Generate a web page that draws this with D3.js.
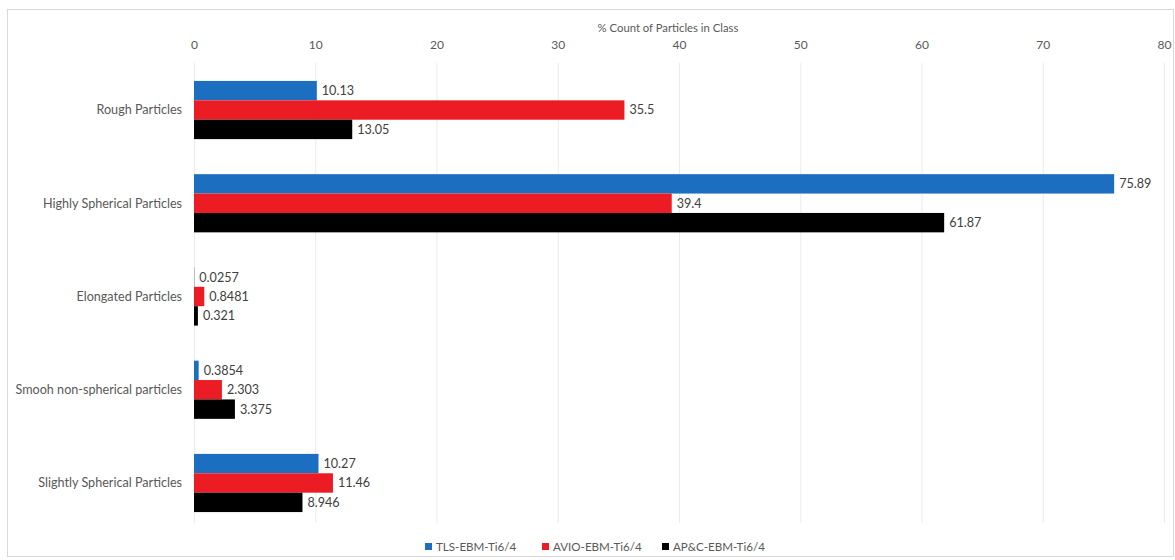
<!DOCTYPE html>
<html>
<head>
<meta charset="utf-8">
<script src="https://cdn.jsdelivr.net/npm/d3@7"></script>
<style>
  html, body { margin: 0; padding: 0; background: #fff; }
  svg { display: block; font-family: Lato, "Open Sans", sans-serif; }
</style>
</head>
<body>
<svg id="chart" width="1175" height="560"></svg>
<script>
// Particle shape classes (top to bottom)
const categories = [
  "Rough Particles",
  "Highly Spherical Particles",
  "Elongated Particles",
  "Smooh non-spherical particles",
  "Slightly Spherical Particles"
];
// Series names
const seriesNames = ["TLS-EBM-Ti6/4", "AVIO-EBM-Ti6/4", "AP&C-EBM-Ti6/4"];
// % count of particles in each class, per powder
const tlsValues  = [10.13, 75.89, 0.0257, 0.3854, 10.27];
const avioValues = [35.5, 39.4, 0.8481, 2.303, 11.46];
const apcValues  = [13.05, 61.87, 0.321, 3.375, 8.946];
const seriesValues = [tlsValues, avioValues, apcValues];
const seriesLabels = [
  ["10.13", "75.89", "0.0257", "0.3854", "10.27"],
  ["35.5", "39.4", "0.8481", "2.303", "11.46"],
  ["13.05", "61.87", "0.321", "3.375", "8.946"]
];
const xTicks = [0, 10, 20, 30, 40, 50, 60, 70, 80];
const colors = ["#1c6ec1", "#ec1c24", "#000000"];

const svg = d3.select("#chart");

// Outer chart frame
svg.append("rect")
  .attr("x", 7.5).attr("y", 9.5)
  .attr("width", 1166).attr("height", 547)
  .attr("fill", "#fff").attr("stroke", "#d9d9d9");

const x = d3.scaleLinear().domain([0, 80]).range([194, 1164]);
const y = d3.scaleBand().domain(categories)
  .range([63.4, 529.6]).paddingInner(0.376).paddingOuter(0.188);
const ySub = d3.scaleBand().domain(d3.range(seriesNames.length))
  .range([0, y.bandwidth()]);

// Vertical gridlines
svg.append("g").selectAll("line").data(xTicks).join("line")
  .attr("x1", d => x(d) + 0.5).attr("x2", d => x(d) + 0.5)
  .attr("y1", 63).attr("y2", 523)
  .attr("stroke", "#ebebeb").attr("stroke-width", 1);

// Top axis
const axis = svg.append("g")
  .attr("transform", "translate(0,49)")
  .call(d3.axisTop(x).tickValues(xTicks).tickSize(0).tickPadding(0));
axis.select(".domain").remove();
axis.selectAll("text")
  .attr("font-size", 12).attr("fill", "#595959")
  .attr("font-family", "Lato, sans-serif");

// Axis title
svg.append("text")
  .attr("x", 668).attr("y", 32)
  .attr("text-anchor", "middle")
  .attr("font-size", 11.3).attr("fill", "#595959")
  .text("% Count of Particles in Class");

// Category labels
svg.append("g").selectAll("text").data(categories).join("text")
  .attr("x", 182)
  .attr("y", d => y(d) + y.bandwidth() / 2)
  .attr("dy", "0.35em")
  .attr("text-anchor", "end")
  .attr("font-size", 12.6).attr("fill", "#595959")
  .text(d => d);

// Bars and value labels
seriesValues.forEach((vals, s) => {
  const g = svg.append("g");
  g.selectAll("rect").data(vals).join("rect")
    .attr("x", x(0))
    .attr("y", (d, i) => y(categories[i]) + ySub(s))
    .attr("width", d => x(d) - x(0))
    .attr("height", ySub.bandwidth())
    .attr("fill", colors[s]);
  g.selectAll("text").data(vals).join("text")
    .attr("x", d => x(d) + 5)
    .attr("y", (d, i) => y(categories[i]) + ySub(s) + ySub.bandwidth() / 2)
    .attr("dy", "0.35em")
    .attr("font-size", 12.6).attr("fill", "#404040")
    .text((d, i) => seriesLabels[s][i]);
});

// Legend
const legendX = [425, 542, 662];
const legend = svg.append("g");
seriesNames.forEach((name, s) => {
  legend.append("rect")
    .attr("x", legendX[s]).attr("y", 543)
    .attr("width", 7).attr("height", 7)
    .attr("fill", colors[s]);
  legend.append("text")
    .attr("x", legendX[s] + 11).attr("y", 547)
    .attr("dy", "0.35em")
    .attr("font-size", 11.6).attr("fill", "#595959")
    .text(name);
});
</script>
</body>
</html>
